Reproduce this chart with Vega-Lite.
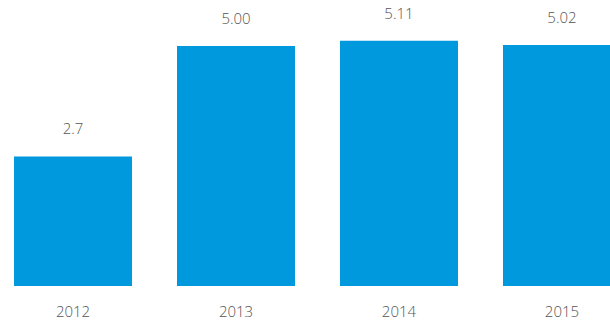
{
  "$schema": "https://vega.github.io/schema/vega-lite/v6.json",
  "width": 610,
  "height": 286,
  "padding": {"left": 0, "top": 0, "right": 0, "bottom": 38},
  "autosize": {"type": "none"},
  "background": "#ffffff",
  "config": {"view": {"stroke": null}, "font": "Open Sans"},
  "data": {"values": [
    {"year": "2012", "value": 2.7, "label": "2.7"},
    {"year": "2013", "value": 5.00, "label": "5.00"},
    {"year": "2014", "value": 5.11, "label": "5.11"},
    {"year": "2015", "value": 5.02, "label": "5.02"}
  ]},
  "encoding": {
    "x": {"field": "year", "type": "nominal", "sort": null,
      "scale": {"range": [0, 635], "paddingInner": 0.276, "paddingOuter": 0.086},
      "axis": {"title": null, "domain": false, "ticks": false, "labelAngle": 0, "labelPadding": 18, "labelFontSize": 15, "labelColor": "#555555", "labelFont": "Open Sans", "labelFontWeight": 300}},
    "y": {"field": "value", "type": "quantitative", "scale": {"domain": [0, 5.96], "nice": false}, "axis": null}
  },
  "layer": [
    {"mark": {"type": "bar", "color": "#0099DD", "clip": true}},
    {"mark": {"type": "text", "baseline": "bottom", "dy": -19, "fontSize": 15, "color": "#555555", "font": "Open Sans", "fontWeight": 300},
     "encoding": {"text": {"field": "label"}}}
  ]
}
